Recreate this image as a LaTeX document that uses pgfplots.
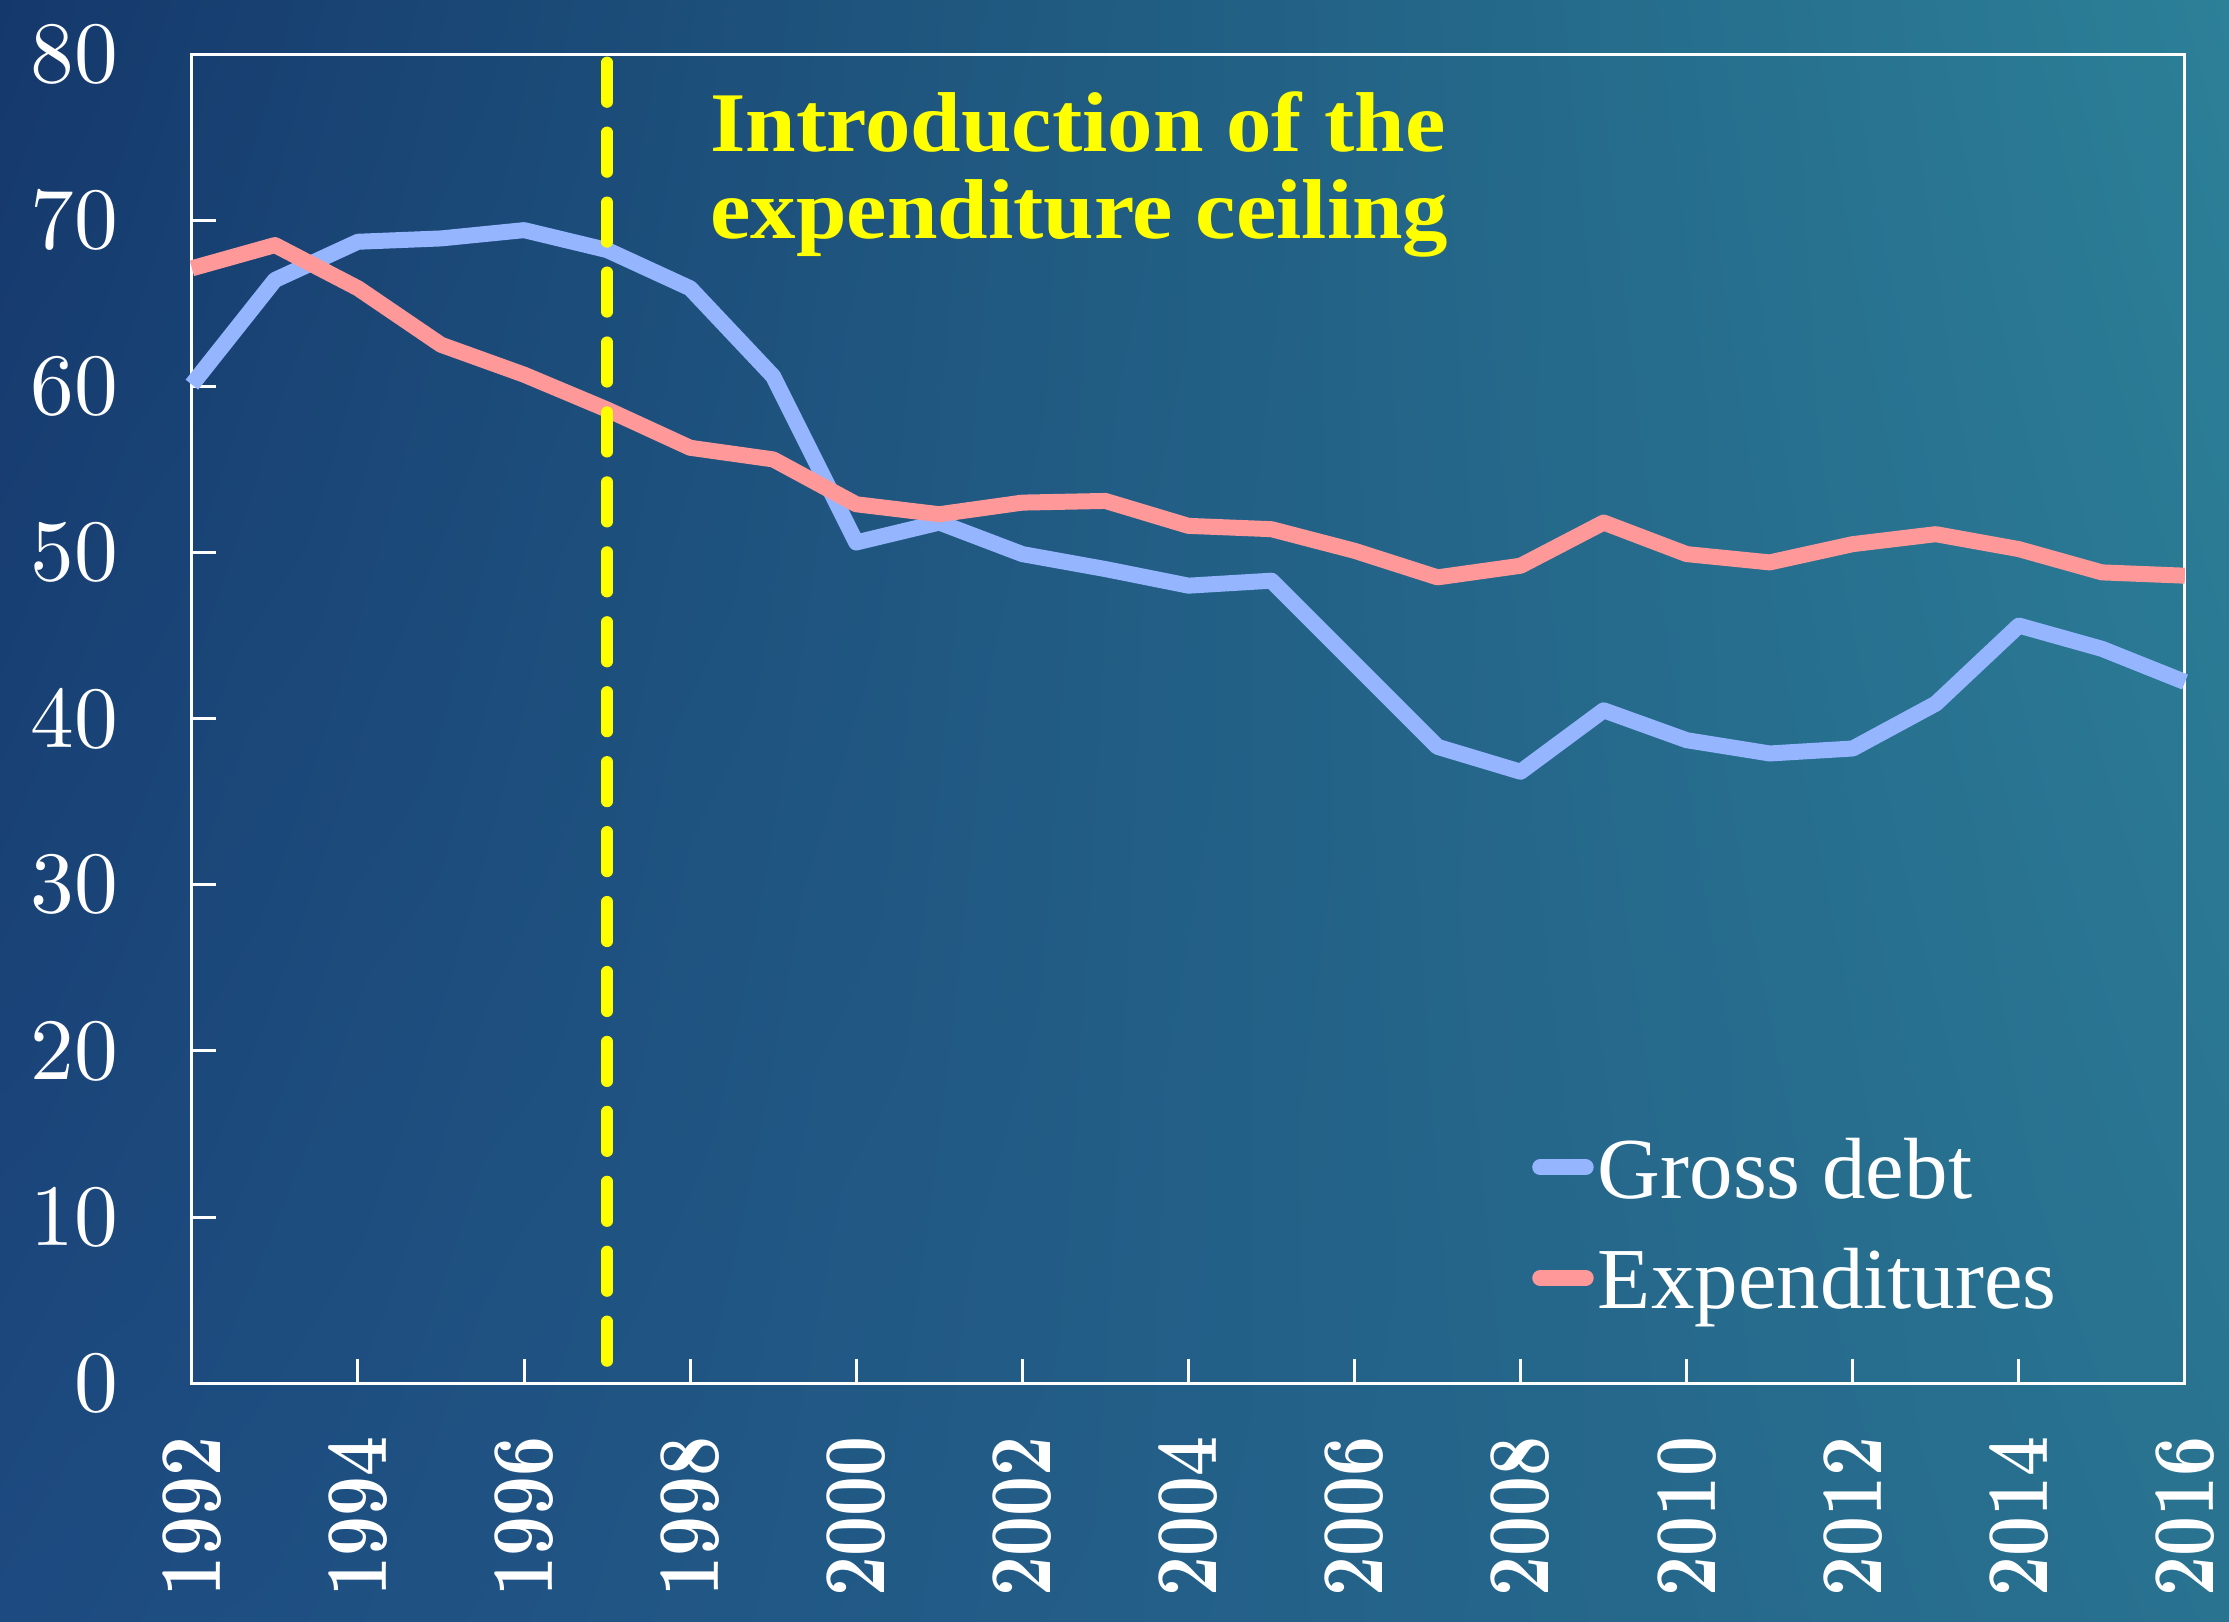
\documentclass[border=0pt]{standalone}
\usepackage{fontspec}
\setmainfont{Liberation Serif}
\newfontfamily\lmfont{lmroman10-regular.otf}[BoldFont=lmroman10-bold.otf]
\usepackage{pgfplots}
\pgfplotsset{compat=1.18}
\usetikzlibrary{shadings}
\definecolor{bgul}{HTML}{15386C}
\definecolor{bgur}{HTML}{2C8098}
\definecolor{bgll}{HTML}{1D4A80}
\definecolor{bglr}{HTML}{297290}
\definecolor{debtblue}{HTML}{95B5FF}
\definecolor{exppink}{HTML}{FF9898}
\definecolor{markyellow}{HTML}{FFFF00}

\begin{document}
\begin{tikzpicture}
\shade[upper left=bgul, upper right=bgur, lower left=bgll, lower right=bglr]
  (-1.35,-1.68) rectangle (14.33,9.73);
\begin{axis}[at={(0,0)}, anchor=south west, scale only axis,
  width=14.02cm, height=9.35cm,
  xmin=1992, xmax=2016, ymin=0, ymax=80,
  xtick={1992,1994,...,2016}, ytick={0,10,...,80},
  xtick pos=left, ytick pos=left, tick align=inside,
  major tick length=0.17cm,
  axis line style={white, line width=0.6pt},
  tick style={white, line width=0.6pt},
  /pgf/number format/assume math mode=true,
  /pgf/number format/1000 sep={},
  yticklabel style={font=\lmfont\fontsize{17.5}{18}\selectfont, text=white,
    anchor=east, inner sep=0pt, xshift=-0.51cm},
  xticklabel style={font=\lmfont\bfseries\fontsize{13.9}{14}\selectfont, text=white,
    yshift=-0.37cm, rotate=90, yscale=1.27, anchor=east, inner sep=0pt},
  clip=false,
  legend cell align=left,
  legend image code/.code={\draw[#1, line cap=round] (0.055cm,2.2pt) -- (0.375cm,2.2pt);},
  legend style={at={(0.672,0.185)}, anchor=north west, draw=none, fill=none,
    inner sep=0pt, row sep=0.216cm, column sep=0.03cm,
    font=\fontsize{17.4}{18}\selectfont, text=white,
    nodes={inner sep=0pt, text height=12pt, text depth=4pt}},
]
\addplot[debtblue, line width=3.2pt, line join=round] coordinates {
(1992,60.1) (1993,66.4) (1994,68.7) (1995,68.9) (1996,69.4) (1997,68.2)
(1998,65.9) (1999,60.6) (2000,50.6) (2001,51.8) (2002,49.9) (2003,49.0)
(2004,48.0) (2005,48.3) (2006,43.3) (2007,38.3) (2008,36.8) (2009,40.5)
(2010,38.7) (2011,37.9) (2012,38.2) (2013,40.9) (2014,45.6) (2015,44.2)
(2016,42.2)};
\addlegendentry{Gross debt}
\addplot[exppink, line width=3.2pt, line join=round] coordinates {
(1992,67.1) (1993,68.5) (1994,65.9) (1995,62.5) (1996,60.7) (1997,58.6)
(1998,56.3) (1999,55.6) (2000,52.9) (2001,52.3) (2002,53.0) (2003,53.1)
(2004,51.6) (2005,51.4) (2006,50.1) (2007,48.5) (2008,49.2) (2009,51.8)
(2010,49.9) (2011,49.4) (2012,50.5) (2013,51.1) (2014,50.2) (2015,48.8)
(2016,48.6)};
\addlegendentry{Expenditures}
\addplot[markyellow, line width=0.08cm, line cap=round,
  dash pattern=on 0.28cm off 0.212cm, forget plot] coordinates {
(1997,79.5) (1997,1.28)};
\node[anchor=north west, align=left, inner sep=0pt, text=markyellow, xscale=1.07,
  font=\bfseries\fontsize{17}{17.4}\selectfont]
  at (axis cs:1998.23,77.8) {Introduction of the\\expenditure ceiling};
\end{axis}
\pgfresetboundingbox
\path (-1.35,-1.68) rectangle (14.33,9.73);
\end{tikzpicture}
\end{document}
